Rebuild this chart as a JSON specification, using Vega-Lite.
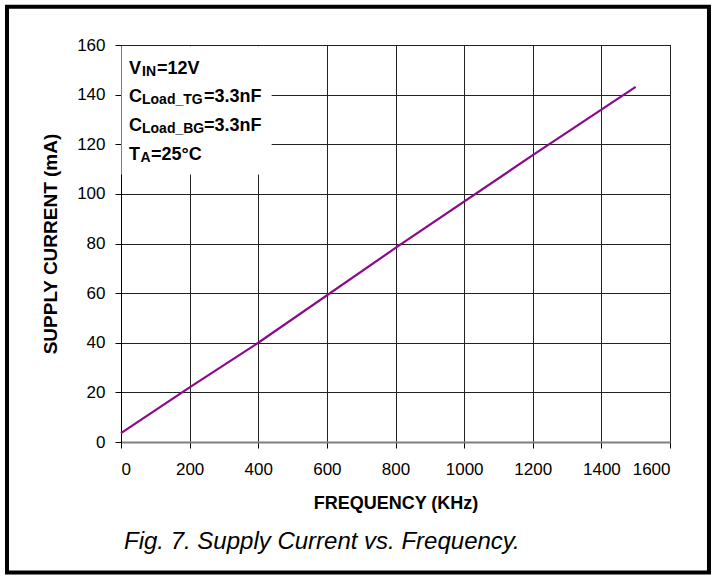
{
  "$schema": "https://vega.github.io/schema/vega-lite/v6.json",
  "width": 549,
  "height": 397,
  "autosize": {"type": "none"},
  "padding": {"left": 121, "top": 45, "right": 45, "bottom": 134},
  "background": "white",
  "config": {
    "font": "Liberation Sans",
    "view": {"stroke": "#000", "strokeWidth": 1},
    "axis": {
      "labelFont": "Liberation Sans",
      "labelFontSize": 17,
      "labelColor": "#000",
      "titleFont": "Liberation Sans",
      "titleFontWeight": "bold",
      "titleColor": "#000",
      "tickColor": "#000",
      "tickSize": 6,
      "gridColor": "#222",
      "gridOpacity": 1,
      "gridWidth": 1
    }
  },
  "title": {
    "text": "Fig. 7. Supply Current vs. Frequency.",
    "orient": "bottom",
    "anchor": "start",
    "frame": "group",
    "font": "Liberation Sans",
    "fontStyle": "italic",
    "fontWeight": "normal",
    "fontSize": 24,
    "color": "#000",
    "offset": -45,
    "dx": 3
  },
  "datasets": {
    "curve": [
      {"freq": 0, "current": 3.6},
      {"freq": 200, "current": 22},
      {"freq": 400, "current": 40},
      {"freq": 800, "current": 78.2},
      {"freq": 1200, "current": 115.6},
      {"freq": 1500, "current": 143.1}
    ],
    "notes": [
      {"line": 1, "main": "V", "sub": "IN", "rest": "=12V", "ny": 148.5},
      {"line": 2, "main": "C", "sub": "Load_TG", "rest": "=3.3nF", "ny": 137.0},
      {"line": 3, "main": "C", "sub": "Load_BG", "rest": "=3.3nF", "ny": 125.3},
      {"line": 4, "main": "T", "sub": "A", "rest": "=25°C", "ny": 113.6}
    ],
    "one": [{}]
  },
  "layer": [
    {
      "data": {"name": "curve"},
      "mark": {"type": "line", "color": "#8B0A8B", "strokeWidth": 2.2},
      "encoding": {
        "x": {
          "field": "freq", "type": "quantitative",
          "scale": {"domain": [0, 1600], "nice": false},
          "axis": {
            "values": [0, 200, 400, 600, 800, 1000, 1200, 1400, 1600],
            "format": "d",
            "title": "FREQUENCY (KHz)",
            "titleFontSize": 18,
            "titlePadding": 17,
            "labelPadding": 13,
            "domainColor": "#808080",
            "domainWidth": 2,
            "grid": true
          }
        },
        "y": {
          "field": "current", "type": "quantitative",
          "scale": {"domain": [0, 160], "nice": false},
          "axis": {
            "values": [0, 20, 40, 60, 80, 100, 120, 140, 160],
            "format": "d",
            "title": "SUPPLY CURRENT (mA)",
            "titleFontSize": 19,
            "titlePadding": 16,
            "labelPadding": 10,
            "domainColor": "#000",
            "grid": true
          }
        }
      }
    },
    {
      "data": {"name": "one"},
      "mark": {"type": "rect", "fill": "white", "stroke": null},
      "encoding": {
        "x": {"datum": 1.5, "type": "quantitative"},
        "x2": {"datum": 439},
        "y": {"datum": 107.8, "type": "quantitative"},
        "y2": {"datum": 159.5}
      }
    },
    {
      "data": {"name": "notes"},
      "mark": {"type": "text", "align": "left", "baseline": "alphabetic", "fontWeight": "bold", "fontSize": 18, "color": "#000"},
      "encoding": {
        "x": {"datum": 23.3, "type": "quantitative"},
        "y": {"field": "ny", "type": "quantitative"},
        "text": {"field": "main"}
      }
    },
    {
      "data": {"name": "notes"},
      "transform": [{"filter": "datum.line != 4"}],
      "mark": {"type": "text", "align": "left", "baseline": "alphabetic", "fontWeight": "bold", "fontSize": 14, "color": "#000", "dx": 13, "dy": 2},
      "encoding": {
        "x": {"datum": 23.3, "type": "quantitative"},
        "y": {"field": "ny", "type": "quantitative"},
        "text": {"field": "sub"}
      }
    },
    {
      "data": {"name": "notes"},
      "transform": [{"filter": "datum.line == 4"}],
      "mark": {"type": "text", "align": "left", "baseline": "alphabetic", "fontWeight": "bold", "fontSize": 14, "color": "#000", "dx": 11.5, "dy": 2},
      "encoding": {
        "x": {"datum": 23.3, "type": "quantitative"},
        "y": {"field": "ny", "type": "quantitative"},
        "text": {"field": "sub"}
      }
    },
    {
      "data": {"name": "notes"},
      "transform": [{"filter": "datum.line == 1"}],
      "mark": {"type": "text", "align": "left", "baseline": "alphabetic", "fontWeight": "bold", "fontSize": 18, "color": "#000", "dx": 28},
      "encoding": {
        "x": {"datum": 23.3, "type": "quantitative"},
        "y": {"field": "ny", "type": "quantitative"},
        "text": {"field": "rest"}
      }
    },
    {
      "data": {"name": "notes"},
      "transform": [{"filter": "datum.line == 2 || datum.line == 3"}],
      "mark": {"type": "text", "align": "left", "baseline": "alphabetic", "fontWeight": "bold", "fontSize": 18, "color": "#000", "dx": 75},
      "encoding": {
        "x": {"datum": 23.3, "type": "quantitative"},
        "y": {"field": "ny", "type": "quantitative"},
        "text": {"field": "rest"}
      }
    },
    {
      "data": {"name": "notes"},
      "transform": [{"filter": "datum.line == 4"}],
      "mark": {"type": "text", "align": "left", "baseline": "alphabetic", "fontWeight": "bold", "fontSize": 18, "color": "#000", "dx": 22},
      "encoding": {
        "x": {"datum": 23.3, "type": "quantitative"},
        "y": {"field": "ny", "type": "quantitative"},
        "text": {"field": "rest"}
      }
    },
    {
      "data": {"name": "one"},
      "mark": {"type": "rect", "filled": false, "stroke": "#000", "strokeWidth": 4, "clip": false},
      "encoding": {
        "x": {"datum": -332.2, "type": "quantitative"},
        "x2": {"datum": 1713.6},
        "y": {"datum": 175.4, "type": "quantitative"},
        "y2": {"datum": -52.6}
      }
    }
  ]
}
